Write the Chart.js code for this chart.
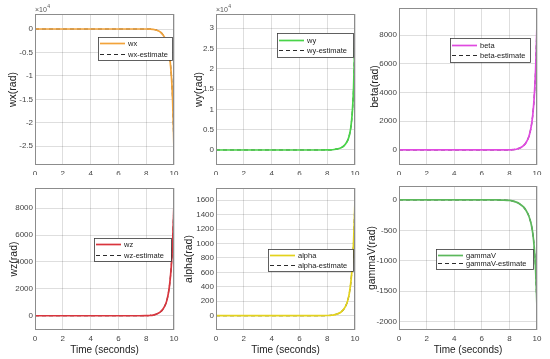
<!DOCTYPE html>
<html>
<head>
<meta charset="utf-8">
<script src="https://cdn.jsdelivr.net/npm/chart.js@4.4.0/dist/chart.umd.min.js"></script>
<style>
    html, body { margin: 0; padding: 0; background: #fff; }
    #wrap { position: relative; width: 550px; height: 359px; overflow: hidden; }
    #wrap canvas { position: absolute; }
</style>
</head>
<body>
<div id="wrap"></div>
<script>
// Tiempo de simulación (s)
const timeSec = [0, 1, 2, 3, 4, 5, 6, 7, 7.5, 8, 8.25, 8.5, 8.75, 9, 9.2, 9.4, 9.5, 9.6, 9.7, 9.8, 9.9, 10];

// Series (rad)
const wxValues     = [0, 0, 0, 0, 0, 0, 0, 0, 0, 0, -20, -80, -250, -600, -1200, -2200, -3000, -4300, -6300, -9500, -15000, -26000];
const wyValues     = [0, 0, 0, 0, 0, 0, 0, 0, 0, 10, 40, 120, 280, 550, 1000, 1900, 2600, 3700, 5600, 9000, 15500, 29000];
const betaValues   = [0, 0, 0, 0, 0, 0, 0, 0, 0, 5, 20, 50, 130, 280, 500, 900, 1250, 1750, 2500, 3700, 5600, 8800];
const wzValues     = [0, 0, 0, 0, 0, 0, 0, 0, 0, 5, 20, 50, 130, 270, 480, 870, 1200, 1700, 2450, 3600, 5400, 8400];
const alphaValues  = [0, 0, 0, 0, 0, 0, 0, 0, 0, 1, 4, 10, 25, 50, 90, 165, 225, 320, 460, 680, 1030, 1600];
const gammaVValues = [0, 0, 0, 0, 0, 0, 0, 0, -2, -8, -18, -35, -65, -110, -170, -260, -330, -420, -560, -780, -1150, -1780];

// Marcas de los ejes
const xTicks      = [0, 2, 4, 6, 8, 10];
const wxTicks     = [-25000, -20000, -15000, -10000, -5000, 0];
const wyTicks     = [0, 5000, 10000, 15000, 20000, 25000, 30000];
const betaTicks   = [0, 2000, 4000, 6000, 8000];
const wzTicks     = [0, 2000, 4000, 6000, 8000];
const alphaTicks  = [0, 200, 400, 600, 800, 1000, 1200, 1400, 1600];
const gammaVTicks = [-2000, -1500, -1000, -500, 0];

const panels = [
    { name: 'wx', values: wxValues, ticks: wxTicks, min: -29000, max: 3200, color: '#f2a33a', exp: true,
      cell: [0, 0, 183, 178], plot: [35, 14, 174, 165], titleX: 13, legend: [98, 37, 74, 23], xTitle: false },
    { name: 'wy', values: wyValues, ticks: wyTicks, min: -3700, max: 33500, color: '#49d449', exp: true,
      cell: [183, 0, 182, 178], plot: [216, 14, 355, 165], titleX: 199, legend: [277, 33, 76, 24], xTitle: false },
    { name: 'beta', values: betaValues, ticks: betaTicks, min: -1050, max: 9900, color: '#e04ae0', exp: false,
      cell: [365, 0, 185, 178], plot: [399, 8, 537, 165], titleX: 375, legend: [450, 38, 80, 24], xTitle: false },
    { name: 'wz', values: wzValues, ticks: wzTicks, min: -1060, max: 9500, color: '#d9353d', exp: false,
      cell: [0, 178, 183, 181], plot: [35, 188, 174, 330], titleX: 14, legend: [94, 238, 77, 23], xTitle: true },
    { name: 'alpha', values: alphaValues, ticks: alphaTicks, min: -200, max: 1770, color: '#e3d21c', exp: false,
      cell: [183, 178, 182, 181], plot: [216, 188, 355, 330], titleX: 189, legend: [268, 249, 85, 22], xTitle: true },
    { name: 'gammaV', values: gammaVValues, ticks: gammaVTicks, min: -2140, max: 230, color: '#5cb85c', exp: false,
      cell: [365, 178, 185, 181], plot: [399, 186, 537, 330], titleX: 372, legend: [436, 249, 97, 20], xTitle: true }
];

// Marco del área, leyenda y factor x10^4
const framePlugin = {
    id: 'frame',
    afterDraw(chart, args, opts) {
        const ctx = chart.ctx;
        const a = chart.chartArea;
        const p = opts.panel;
        ctx.save();
        ctx.strokeStyle = '#8c8c8c';
        ctx.lineWidth = 1;
        ctx.strokeRect(a.left + 0.5, a.top + 0.5, a.right - a.left - 1, a.bottom - a.top - 1);

        if (p.exp) {
            ctx.fillStyle = '#555';
            ctx.textBaseline = 'alphabetic';
            ctx.font = '7px "Liberation Sans", Arial, sans-serif';
            ctx.fillText('\u00d710', a.left, a.top - 2);
            const w = ctx.measureText('\u00d710').width;
            ctx.font = '5px "Liberation Sans", Arial, sans-serif';
            ctx.fillText('4', a.left + w + 0.5, a.top - 6);
        }

        const lx = p.legend[0] - p.cell[0];
        const ly = p.legend[1] - p.cell[1];
        const lw = p.legend[2];
        const lh = p.legend[3];
        ctx.fillStyle = '#fff';
        ctx.fillRect(lx, ly, lw, lh);
        ctx.strokeStyle = '#3a3a3a';
        ctx.lineWidth = 0.8;
        ctx.strokeRect(lx + 0.5, ly + 0.5, lw, lh);
        ctx.font = '7.5px "Liberation Sans", Arial, sans-serif';
        ctx.textBaseline = 'middle';
        chart.data.datasets.forEach(function (ds, i) {
            const yy = Math.round(ly + lh * 0.28 + i * lh * 0.44) + 0.5;
            ctx.beginPath();
            ctx.strokeStyle = ds.borderColor;
            ctx.lineWidth = ds.borderWidth;
            ctx.setLineDash(ds.borderDash || []);
            ctx.moveTo(lx + 2, yy);
            ctx.lineTo(lx + 27, yy);
            ctx.stroke();
            ctx.setLineDash([]);
            ctx.fillStyle = '#222';
            ctx.fillText(ds.label, lx + 30, yy);
        });
        ctx.restore();
    }
};

const wrap = document.getElementById('wrap');

panels.forEach(function (p) {
    const cv = document.createElement('canvas');
    cv.width = p.cell[2];
    cv.height = p.cell[3];
    cv.style.left = p.cell[0] + 'px';
    cv.style.top = p.cell[1] + 'px';
    cv.style.width = p.cell[2] + 'px';
    cv.style.height = p.cell[3] + 'px';
    wrap.appendChild(cv);

    const titleSize = 10.5;
    const padLeft = p.titleX - p.cell[0] - titleSize * 1.2 / 2;
    const padTop = p.plot[1] - p.cell[1];
    const padRight = p.cell[0] + p.cell[2] - p.plot[2];
    const padBottom = 3;
    const yWidth = p.plot[0] - p.cell[0] - padLeft;
    const xHeight = p.cell[1] + p.cell[3] - p.plot[3] - padBottom;

    const points = timeSec.map(function (t, i) { return { x: t, y: p.values[i] }; });

    new Chart(cv, {
        type: 'line',
        data: {
            datasets: [{
                label: p.name,
                data: points,
                borderColor: p.color,
                borderWidth: 1.7,
                pointRadius: 0,
                cubicInterpolationMode: 'monotone',
                fill: false
            }, {
                label: p.name + '-estimate',
                data: points,
                borderColor: '#2b2b2b',
                borderWidth: 1.2,
                borderDash: [4, 3],
                pointRadius: 0,
                cubicInterpolationMode: 'monotone',
                fill: false
            }]
        },
        options: {
            responsive: false,
            animation: false,
            layout: {
                padding: { left: padLeft, top: padTop, right: padRight, bottom: padBottom }
            },
            scales: {
                x: {
                    type: 'linear',
                    min: 0,
                    max: 10,
                    afterBuildTicks: function (axis) { axis.ticks = xTicks.map(function (v) { return { value: v }; }); },
                    afterFit: function (axis) { axis.height = xHeight; },
                    grid: { color: 'rgba(0,0,0,0.13)', drawTicks: false },
                    border: { display: false },
                    ticks: {
                        padding: 4,
                        maxRotation: 0,
                        color: '#444',
                        font: { size: 8, family: '"Liberation Sans", Arial, sans-serif' }
                    },
                    title: {
                        display: p.xTitle,
                        text: 'Time (seconds)',
                        color: '#222',
                        padding: 0,
                        font: { size: 10, family: '"Liberation Sans", Arial, sans-serif' }
                    }
                },
                y: {
                    type: 'linear',
                    min: p.min,
                    max: p.max,
                    afterBuildTicks: function (axis) { axis.ticks = p.ticks.map(function (v) { return { value: v }; }); },
                    afterFit: function (axis) { axis.width = yWidth; },
                    grid: { color: 'rgba(0,0,0,0.13)', drawTicks: false },
                    border: { display: false },
                    ticks: {
                        padding: 2,
                        color: '#444',
                        font: { size: 8, family: '"Liberation Sans", Arial, sans-serif' },
                        callback: function (v) { return p.exp ? String(v / 10000) : String(v); }
                    },
                    title: {
                        display: true,
                        text: p.name + '(rad)',
                        color: '#222',
                        padding: 0,
                        font: { size: titleSize, family: '"Liberation Sans", Arial, sans-serif' }
                    }
                }
            },
            plugins: {
                legend: { display: false },
                tooltip: { enabled: false },
                frame: { panel: p }
            }
        },
        plugins: [framePlugin]
    });
});
</script>
</body>
</html>
